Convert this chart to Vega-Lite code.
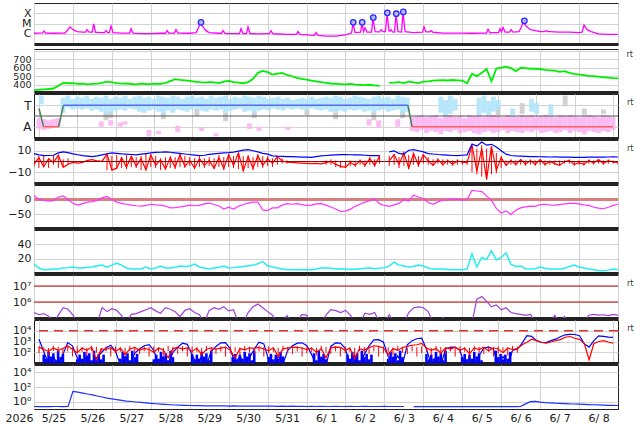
{
"$schema": "https://vega.github.io/schema/vega-lite/v6.json",
"padding": {"left": 4, "top": 2, "right": 5, "bottom": 2},
"background": "white",
"spacing": 0,
"datasets": {
"m": [
{"d":0,"sp":336,"bt":7.4,"bz":-2.7,"ds":13,"n":12.4,"pu":220000,"b8":1600,"r8":300,"p9":0.22},
{"d":0.125,"sp":341,"bt":6.2,"bz":3.6,"ds":0,"n":7,"pu":160000,"b8":110,"r8":180,"p9":0.21},
{"d":0.25,"sp":346,"bt":5.4,"bz":-5,"ds":-3,"n":4.5,"pu":190000,"b8":8,"r8":120,"p9":0.22},
{"d":0.375,"sp":350,"bt":5.6,"bz":2.5,"ds":-6,"n":5,"pu":130000,"b8":40,"r8":250,"p9":0.21},
{"d":0.5,"sp":356,"bt":5.8,"bz":-1,"ds":-4,"n":5.7,"pu":50000,"b8":6,"r8":150,"p9":0.22},
{"d":0.625,"sp":388,"bt":8,"bz":6,"ds":8,"n":5.5,"pu":150000,"b8":60,"r8":220,"p9":0.22},
{"d":0.75,"sp":423,"bt":8.9,"bz":-5.4,"ds":12,"n":7,"pu":440000,"b8":800,"r8":400,"p9":0.21},
{"d":0.875,"sp":418,"bt":8.2,"bz":-2.5,"ds":0,"n":7.5,"pu":350000,"b8":400,"r8":180,"p9":0.23},
{"d":1,"sp":420,"bt":7.1,"bz":-0.9,"ds":-13,"n":8.4,"pu":150000,"b8":30,"r8":90,"p9":25},
{"d":1.125,"sp":410,"bt":6.3,"bz":-1.5,"ds":-19,"n":7,"pu":50000,"b8":6,"r8":250,"p9":20},
{"d":1.25,"sp":413,"bt":5.4,"bz":-0.8,"ds":-14,"n":7,"pu":50000,"b8":50,"r8":150,"p9":15},
{"d":1.375,"sp":405,"bt":5,"bz":1,"ds":-9,"n":8,"pu":50000,"b8":7,"r8":300,"p9":11},
{"d":1.5,"sp":411,"bt":4.5,"bz":1.8,"ds":-7,"n":8.4,"pu":50000,"b8":30,"r8":20,"p9":8.5},
{"d":1.625,"sp":414,"bt":5.2,"bz":0.5,"ds":-3,"n":10,"pu":50000,"b8":90,"r8":200,"p9":6},
{"d":1.75,"sp":422,"bt":6.2,"bz":0.2,"ds":5,"n":11,"pu":450000,"b8":250,"r8":180,"p9":4.3},
{"d":1.875,"sp":436,"bt":7.2,"bz":7.1,"ds":10,"n":8,"pu":250000,"b8":450,"r8":260,"p9":3},
{"d":2,"sp":428,"bt":8,"bz":-8,"ds":0,"n":11,"pu":380000,"b8":120,"r8":120,"p9":2.4},
{"d":2.125,"sp":419,"bt":7.6,"bz":-6.2,"ds":-9,"n":13.7,"pu":300000,"b8":7,"r8":240,"p9":1.9},
{"d":2.25,"sp":413,"bt":7.1,"bz":3.6,"ds":-13,"n":11,"pu":140000,"b8":40,"r8":60,"p9":1.5},
{"d":2.375,"sp":416,"bt":6.8,"bz":-5.4,"ds":-16,"n":7,"pu":50000,"b8":6,"r8":200,"p9":1.2},
{"d":2.5,"sp":409,"bt":6.5,"bz":5,"ds":-19,"n":5.7,"pu":170000,"b8":80,"r8":280,"p9":1.05},
{"d":2.625,"sp":405,"bt":6.2,"bz":-4.5,"ds":-21,"n":5.5,"pu":190000,"b8":200,"r8":150,"p9":0.9},
{"d":2.75,"sp":413,"bt":6.8,"bz":2.7,"ds":-22,"n":5.7,"pu":250000,"b8":400,"r8":230,"p9":0.78},
{"d":2.875,"sp":409,"bt":7.4,"bz":-8,"ds":-20,"n":8.4,"pu":330000,"b8":500,"r8":180,"p9":0.68},
{"d":3,"sp":407,"bt":8,"bz":6.2,"ds":-16,"n":5.7,"pu":440000,"b8":150,"r8":100,"p9":0.6},
{"d":3.125,"sp":414,"bt":8.4,"bz":-3.6,"ds":-18,"n":7,"pu":280000,"b8":8,"r8":250,"p9":0.52},
{"d":3.25,"sp":411,"bt":8.6,"bz":1.8,"ds":-19,"n":9.7,"pu":200000,"b8":35,"r8":160,"p9":0.46},
{"d":3.375,"sp":421,"bt":8.9,"bz":-7.1,"ds":-22,"n":7,"pu":440000,"b8":7,"r8":30,"p9":0.42},
{"d":3.5,"sp":443,"bt":8.6,"bz":3.6,"ds":-28,"n":7,"pu":350000,"b8":100,"r8":220,"p9":0.38},
{"d":3.625,"sp":466,"bt":8,"bz":-5.4,"ds":-27,"n":8,"pu":250000,"b8":300,"r8":280,"p9":0.35},
{"d":3.75,"sp":458,"bt":7.5,"bz":6.2,"ds":-25,"n":9.7,"pu":120000,"b8":700,"r8":200,"p9":0.33},
{"d":3.875,"sp":452,"bt":7,"bz":-4.5,"ds":-22,"n":9,"pu":300000,"b8":550,"r8":250,"p9":0.31},
{"d":4,"sp":446,"bt":6.5,"bz":0.9,"ds":-19,"n":9.7,"pu":380000,"b8":60,"r8":120,"p9":0.3},
{"d":4.125,"sp":438,"bt":6,"bz":-6.2,"ds":-21,"n":12.4,"pu":220000,"b8":7,"r8":230,"p9":0.29},
{"d":4.25,"sp":430,"bt":5.4,"bz":2.7,"ds":-20,"n":8.4,"pu":160000,"b8":40,"r8":60,"p9":0.28},
{"d":4.375,"sp":424,"bt":5.8,"bz":-3.6,"ds":-15,"n":7,"pu":50000,"b8":6,"r8":180,"p9":0.27},
{"d":4.5,"sp":431,"bt":6.6,"bz":0.9,"ds":-12,"n":5.7,"pu":300000,"b8":120,"r8":260,"p9":0.27},
{"d":4.625,"sp":427,"bt":7.1,"bz":-6.2,"ds":-17,"n":7,"pu":440000,"b8":350,"r8":200,"p9":0.26},
{"d":4.75,"sp":420,"bt":7.6,"bz":3.6,"ds":-22,"n":8,"pu":350000,"b8":750,"r8":240,"p9":0.27},
{"d":4.875,"sp":438,"bt":8,"bz":-6.5,"ds":-32,"n":9.7,"pu":500000,"b8":800,"r8":300,"p9":0.26},
{"d":5,"sp":445,"bt":8.3,"bz":6.2,"ds":-26,"n":7,"pu":280000,"b8":200,"r8":150,"p9":0.25},
{"d":5.125,"sp":432,"bt":8.8,"bz":-3.6,"ds":-32,"n":7.5,"pu":330000,"b8":8,"r8":30,"p9":0.26},
{"d":5.25,"sp":425,"bt":9.6,"bz":8,"ds":-23,"n":8.4,"pu":50000,"b8":45,"r8":220,"p9":0.25},
{"d":5.375,"sp":418,"bt":10.5,"bz":-8.5,"ds":-17,"n":9,"pu":50000,"b8":6,"r8":170,"p9":0.25},
{"d":5.5,"sp":430,"bt":11,"bz":4.5,"ds":-12,"n":10,"pu":220000,"b8":30,"r8":260,"p9":0.24},
{"d":5.625,"sp":470,"bt":10,"bz":-6.2,"ds":-9,"n":11,"pu":500000,"b8":200,"r8":230,"p9":0.25},
{"d":5.75,"sp":540,"bt":8.9,"bz":5.4,"ds":-9,"n":13,"pu":760000,"b8":850,"r8":280,"p9":0.24},
{"d":5.875,"sp":562,"bt":7.6,"bz":-3.6,"ds":-35,"n":16,"pu":440000,"b8":600,"r8":200,"p9":0.24},
{"d":6,"sp":548,"bt":6.8,"bz":2.7,"ds":-37,"n":10,"pu":250000,"b8":20,"r8":140,"p9":0.25},
{"d":6.125,"sp":520,"bt":5.3,"bz":-1.8,"ds":-28,"n":8.4,"pu":150000,"b8":7,"r8":260,"p9":0.24},
{"d":6.25,"sp":530,"bt":5,"bz":4.5,"ds":-28,"n":7,"pu":50000,"b8":40,"r8":40,"p9":0.23},
{"d":6.375,"sp":538,"bt":4.8,"bz":0.5,"ds":-19,"n":5.7,"pu":50000,"b8":8,"r8":210,"p9":0.24},
{"d":6.5,"sp":515,"bt":4.6,"bz":-0.5,"ds":-14,"n":5,"pu":140000,"b8":150,"r8":250,"p9":0.23},
{"d":6.625,"sp":500,"bt":4.5,"bz":-0.9,"ds":-16,"n":4.4,"pu":50000,"b8":400,"r8":300,"p9":0.24},
{"d":6.75,"sp":480,"bt":4.3,"bz":-1.2,"ds":-14,"n":4.4,"pu":50000,"b8":700,"r8":280,"p9":0.23},
{"d":6.875,"sp":470,"bt":4.1,"bz":-1.5,"ds":-17,"n":4.5,"pu":160000,"b8":750,"r8":250,"p9":0.23},
{"d":7,"sp":460,"bt":4,"bz":-1.8,"ds":-20,"n":4.4,"pu":150000,"b8":400,"r8":180,"p9":0.22},
{"d":7.125,"sp":448,"bt":3.8,"bz":-2,"ds":-19,"n":4.5,"pu":50000,"b8":60,"r8":240,"p9":0.23},
{"d":7.25,"sp":440,"bt":4.5,"bz":-1.8,"ds":-15,"n":5.5,"pu":50000,"b8":7,"r8":100,"p9":0.22},
{"d":7.375,"sp":430,"bt":5.3,"bz":-2.2,"ds":-14,"n":7,"pu":50000,"b8":35,"r8":220,"p9":0.23},
{"d":7.5,"sp":422,"bt":5.6,"bz":-1,"ds":-19,"n":7,"pu":150000,"b8":6,"r8":30,"p9":0.22},
{"d":7.625,"sp":415,"bt":6,"bz":0,"ds":-25,"n":6.5,"pu":330000,"b8":350,"r8":260,"p9":0.22},
{"d":7.75,"sp":412,"bt":6.2,"bz":-2.7,"ds":-32,"n":5.7,"pu":290000,"b8":750,"r8":300,"p9":0.23},
{"d":7.875,"sp":408,"bt":6.4,"bz":-4.5,"ds":-40,"n":6,"pu":220000,"b8":700,"r8":280,"p9":0.22},
{"d":8,"sp":405,"bt":6.5,"bz":-5.4,"ds":-39,"n":5.5,"pu":300000,"b8":250,"r8":150,"p9":0.22},
{"d":8.125,"sp":410,"bt":6.3,"bz":-1,"ds":-33,"n":4.8,"pu":150000,"b8":8,"r8":230,"p9":0.23},
{"d":8.25,"sp":402,"bt":6.2,"bz":-3.6,"ds":-23,"n":5.7,"pu":50000,"b8":50,"r8":25,"p9":0.22},
{"d":8.375,"sp":398,"bt":6.2,"bz":0.9,"ds":-16,"n":5.7,"pu":50000,"b8":7,"r8":210,"p9":0.22},
{"d":8.5,"sp":395,"bt":5.8,"bz":-3.6,"ds":-9,"n":6.5,"pu":200000,"b8":60,"r8":160,"p9":0.23},
{"d":8.625,"sp":400,"bt":5.5,"bz":2.7,"ds":-4,"n":7,"pu":170000,"b8":400,"r8":270,"p9":0.22},
{"d":8.75,"sp":392,"bt":5.4,"bz":-3.6,"ds":2,"n":6,"pu":220000,"b8":1400,"r8":400,"p9":0.22},
{"d":8.875,"sp":388,"bt":5.4,"bz":5,"ds":-14,"n":6.5,"pu":50000,"b8":1500,"r8":350,"p9":0.22},
{"d":9,"sp":null,"bt":null,"bz":null,"ds":-20,"n":7.5,"pu":50000,"b8":900,"r8":250,"p9":0.23},
{"d":9.125,"sp":422,"bt":8.9,"bz":0.9,"ds":-23,"n":10,"pu":160000,"b8":40,"r8":60,"p9":0.22},
{"d":9.25,"sp":425,"bt":9.8,"bz":6.2,"ds":-18,"n":15,"pu":50000,"b8":7,"r8":220,"p9":0.22},
{"d":9.375,"sp":430,"bt":7.5,"bz":-2.7,"ds":-13,"n":11,"pu":50000,"b8":45,"r8":150,"p9":0.22},
{"d":9.5,"sp":420,"bt":6.8,"bz":8,"ds":0,"n":9.7,"pu":50000,"b8":8,"r8":280,"p9":0.22},
{"d":9.625,"sp":436,"bt":10.5,"bz":-6.2,"ds":-5,"n":8.4,"pu":220000,"b8":500,"r8":350,"p9":null},
{"d":9.75,"sp":428,"bt":11,"bz":7.5,"ds":14,"n":9,"pu":440000,"b8":1200,"r8":450,"p9":0.21},
{"d":9.875,"sp":420,"bt":10,"bz":-3.6,"ds":8,"n":11,"pu":500000,"b8":1800,"r8":500,"p9":0.22},
{"d":10,"sp":436,"bt":8.9,"bz":6.2,"ds":3,"n":9.7,"pu":440000,"b8":2000,"r8":650,"p9":0.21},
{"d":10.125,"sp":440,"bt":7.4,"bz":0.9,"ds":-10,"n":7,"pu":250000,"b8":200,"r8":250,"p9":0.22},
{"d":10.25,"sp":448,"bt":7,"bz":-3.6,"ds":-16,"n":5.7,"pu":50000,"b8":7,"r8":150,"p9":0.21},
{"d":10.375,"sp":452,"bt":6.5,"bz":1.8,"ds":-8,"n":5.7,"pu":50000,"b8":40,"r8":220,"p9":0.22},
{"d":10.5,"sp":455,"bt":6.2,"bz":-2.7,"ds":-2,"n":5.7,"pu":110000,"b8":6,"r8":80,"p9":0.21},
{"d":10.625,"sp":450,"bt":5.9,"bz":0.9,"ds":-2,"n":5,"pu":50000,"b8":200,"r8":260,"p9":0.22},
{"d":10.75,"sp":456,"bt":5.6,"bz":-2.5,"ds":2,"n":4.4,"pu":50000,"b8":280,"r8":200,"p9":0.21},
{"d":10.875,"sp":452,"bt":5.4,"bz":0.5,"ds":0,"n":4.4,"pu":50000,"b8":300,"r8":300,"p9":0.21},
{"d":11,"sp":448,"bt":5.8,"bz":-0.5,"ds":-2,"n":4.5,"pu":50000,"b8":150,"r8":150,"p9":0.22},
{"d":11.125,"sp":418,"bt":6.2,"bz":-1,"ds":-1,"n":5.7,"pu":50000,"b8":7,"r8":240,"p9":0.21},
{"d":11.25,"sp":530,"bt":16.3,"bz":15,"ds":30,"n":26.7,"pu":50000,"b8":30,"r8":70,"p9":0.21},
{"d":11.375,"sp":500,"bt":14.3,"bz":-9,"ds":28,"n":8.4,"pu":1500000,"b8":6,"r8":250,"p9":0.22},
{"d":11.5,"sp":540,"bt":18.1,"bz":12,"ds":26,"n":21.7,"pu":2200000,"b8":50,"r8":180,"p9":0.21},
{"d":11.625,"sp":585,"bt":15.2,"bz":-16.5,"ds":12,"n":19,"pu":1100000,"b8":250,"r8":300,"p9":0.21},
{"d":11.75,"sp":440,"bt":16,"bz":14,"ds":-3,"n":31,"pu":500000,"b8":300,"r8":130,"p9":0.22},
{"d":11.875,"sp":590,"bt":13.4,"bz":-8,"ds":-30,"n":18,"pu":660000,"b8":200,"r8":260,"p9":0.21},
{"d":12,"sp":600,"bt":10,"bz":3.6,"ds":-45,"n":21.7,"pu":330000,"b8":7,"r8":200,"p9":0.21},
{"d":12.125,"sp":612,"bt":6.8,"bz":-3.6,"ds":-38,"n":28,"pu":440000,"b8":40,"r8":90,"p9":0.22},
{"d":12.25,"sp":595,"bt":5.6,"bz":0.9,"ds":-50,"n":12,"pu":220000,"b8":6,"r8":250,"p9":0.21},
{"d":12.375,"sp":560,"bt":5.2,"bz":-2.7,"ds":-36,"n":9,"pu":190000,"b8":150,"r8":180,"p9":0.21},
{"d":12.5,"sp":600,"bt":5,"bz":1.8,"ds":-28,"n":9.7,"pu":170000,"b8":200,"r8":215,"p9":0.22},
{"d":12.625,"sp":595,"bt":4.8,"bz":-2.5,"ds":-25,"n":6,"pu":145000,"b8":700,"r8":500,"p9":0.5},
{"d":12.75,"sp":588,"bt":4.5,"bz":0.9,"ds":-22,"n":5.7,"pu":170000,"b8":3500,"r8":850,"p9":1},
{"d":12.875,"sp":590,"bt":4.6,"bz":-2.7,"ds":-23,"n":6,"pu":50000,"b8":3000,"r8":1650,"p9":1.1},
{"d":13,"sp":585,"bt":4.4,"bz":1.8,"ds":-17,"n":8.4,"pu":50000,"b8":1200,"r8":1200,"p9":0.85},
{"d":13.125,"sp":575,"bt":4.3,"bz":-2.7,"ds":-16,"n":6.5,"pu":50000,"b8":850,"r8":850,"p9":0.75},
{"d":13.25,"sp":570,"bt":4.2,"bz":0,"ds":-18,"n":5.7,"pu":50000,"b8":800,"r8":700,"p9":0.7},
{"d":13.375,"sp":565,"bt":4.4,"bz":-2,"ds":-19,"n":5.7,"pu":145000,"b8":1200,"r8":900,"p9":0.62},
{"d":13.5,"sp":552,"bt":4.1,"bz":-3.6,"ds":-17,"n":5.7,"pu":50000,"b8":1650,"r8":1200,"p9":0.6},
{"d":13.625,"sp":560,"bt":4,"bz":0,"ds":-15,"n":6.5,"pu":126000,"b8":2800,"r8":1500,"p9":0.55},
{"d":13.75,"sp":540,"bt":4.1,"bz":0.9,"ds":-13,"n":9,"pu":50000,"b8":4200,"r8":2500,"p9":0.5},
{"d":13.875,"sp":528,"bt":3.9,"bz":-2.7,"ds":-13,"n":11,"pu":50000,"b8":4600,"r8":2900,"p9":0.48},
{"d":14,"sp":520,"bt":3.8,"bz":-1,"ds":-15,"n":8.4,"pu":50000,"b8":4500,"r8":2000,"p9":0.45},
{"d":14.125,"sp":512,"bt":3.9,"bz":-2.7,"ds":-18,"n":7,"pu":50000,"b8":3500,"r8":1600,"p9":0.42},
{"d":14.25,"sp":505,"bt":4,"bz":0.9,"ds":-20,"n":5.7,"pu":150000,"b8":600,"r8":650,"p9":0.4},
{"d":14.375,"sp":500,"bt":4.1,"bz":-1.5,"ds":-26,"n":4.4,"pu":170000,"b8":300,"r8":20,"p9":0.38},
{"d":14.5,"sp":495,"bt":4.2,"bz":1.8,"ds":-29,"n":3.5,"pu":150000,"b8":1200,"r8":650,"p9":0.36},
{"d":14.625,"sp":488,"bt":4.1,"bz":-1.8,"ds":-31,"n":3.1,"pu":160000,"b8":3300,"r8":1000,"p9":0.34},
{"d":14.75,"sp":485,"bt":4.2,"bz":0.9,"ds":-26,"n":4,"pu":140000,"b8":3000,"r8":1200,"p9":0.32},
{"d":14.875,"sp":478,"bt":4.3,"bz":-0.5,"ds":-20,"n":5.7,"pu":170000,"b8":2600,"r8":900,"p9":0.31},
{"d":15,"sp":475,"bt":4.2,"bz":-0.9,"ds":-16,"n":4.4,"pu":150000,"b8":2400,"r8":700,"p9":0.3}
],
"xr": [
{"d":0,"v":1.12e-6},{"d":0.218,"v":1.2e-6},{"d":0.257,"v":1.8e-6},{"d":0.295,"v":1.15e-6},
{"d":0.5,"v":1.12e-6},{"d":0.75,"v":1.17e-6},
{"d":0.796,"v":1.17e-6},{"d":0.873,"v":2.5e-6},{"d":0.925,"v":4.7e-6},{"d":1.002,"v":2.5e-6},{"d":1.105,"v":1.62e-6},
{"d":1.25,"v":1.46e-6},
{"d":1.323,"v":1.46e-6},{"d":1.361,"v":2.5e-6},{"d":1.413,"v":1.46e-6},
{"d":1.495,"v":1.46e-6},{"d":1.534,"v":9e-6},{"d":1.58,"v":1.4e-6},
{"d":1.75,"v":1.31e-6},
{"d":1.811,"v":1.31e-6},{"d":1.85,"v":2e-6},{"d":1.888,"v":1.31e-6},
{"d":1.939,"v":1.31e-6},{"d":1.978,"v":5.8e-6},{"d":2.029,"v":1.3e-6},
{"d":2.25,"v":1.17e-6},
{"d":2.453,"v":1.17e-6},{"d":2.492,"v":3.1e-6},{"d":2.543,"v":1.17e-6},
{"d":2.75,"v":1.05e-6},{"d":3,"v":1.05e-6},{"d":3.25,"v":1.12e-6},
{"d":3.378,"v":1.12e-6},{"d":3.416,"v":2e-6},{"d":3.468,"v":1.12e-6},
{"d":3.5,"v":1.17e-6},
{"d":3.607,"v":1.17e-6},{"d":3.648,"v":2.5e-6},{"d":3.699,"v":1.17e-6},
{"d":3.75,"v":1.17e-6},{"d":4,"v":1.12e-6},
{"d":4.161,"v":1.31e-6},{"d":4.213,"v":3.1e-6},{"d":4.264,"v":1e-5},{"d":4.341,"v":4.7e-6},{"d":4.418,"v":2e-6},{"d":4.495,"v":1.31e-6},
{"d":4.75,"v":1.12e-6},
{"d":4.816,"v":1.12e-6},{"d":4.855,"v":2e-6},{"d":4.906,"v":1.1e-6},
{"d":5,"v":1.05e-6},{"d":5.25,"v":1.05e-6},
{"d":5.279,"v":1.05e-6},{"d":5.317,"v":3.1e-6},{"d":5.369,"v":1.05e-6},
{"d":5.459,"v":1.05e-6},{"d":5.497,"v":4.7e-6},{"d":5.548,"v":1.05e-6},
{"d":5.75,"v":9.9e-7},{"d":6,"v":1.05e-6},
{"d":6.049,"v":1.05e-6},{"d":6.088,"v":2e-6},{"d":6.139,"v":1e-6},
{"d":6.25,"v":9.5e-7},{"d":6.5,"v":8.5e-7},
{"d":6.743,"v":8.5e-7},{"d":6.781,"v":1.62e-6},{"d":6.833,"v":8.5e-7},
{"d":7,"v":7.7e-7},
{"d":7.205,"v":7e-7},{"d":7.244,"v":1.31e-6},{"d":7.295,"v":6.8e-7},
{"d":7.5,"v":5.9e-7},{"d":7.75,"v":5.9e-7},{"d":8,"v":7.7e-7},
{"d":8.156,"v":1.17e-6},{"d":8.194,"v":1e-5},{"d":8.246,"v":1.3e-6},
{"d":8.387,"v":1.4e-6},{"d":8.425,"v":1e-5},{"d":8.464,"v":1.6e-6},
{"d":8.503,"v":3.8e-6},{"d":8.554,"v":1.46e-6},
{"d":8.669,"v":1.46e-6},{"d":8.708,"v":3.25e-5},{"d":8.759,"v":1.6e-6},
{"d":8.875,"v":1.5e-6},{"d":8.913,"v":2.5e-6},{"d":8.965,"v":1.6e-6},
{"d":9,"v":1.62e-6},
{"d":9.029,"v":1.6e-6},{"d":9.068,"v":9.5e-5},{"d":9.119,"v":1.8e-6},
{"d":9.145,"v":1.8e-6},{"d":9.17,"v":2.5e-6},{"d":9.209,"v":1.5e-6},
{"d":9.25,"v":1.46e-6},
{"d":9.26,"v":1.46e-6},{"d":9.299,"v":7.7e-5},{"d":9.35,"v":1.6e-6},
{"d":9.44,"v":1.46e-6},{"d":9.479,"v":1.17e-4},{"d":9.53,"v":1.6e-6},
{"d":9.75,"v":1.31e-6},
{"d":9.98,"v":1.46e-6},{"d":10.018,"v":4.7e-6},{"d":10.069,"v":1.5e-6},
{"d":10.159,"v":1.52e-6},{"d":10.198,"v":2e-6},{"d":10.249,"v":1.4e-6},
{"d":10.5,"v":1.17e-6},{"d":10.75,"v":1.17e-6},{"d":11,"v":1.17e-6},{"d":11.25,"v":1.12e-6},{"d":11.5,"v":1.17e-6},
{"d":11.624,"v":1.17e-6},{"d":11.662,"v":2.75e-6},{"d":11.714,"v":1.2e-6},
{"d":11.75,"v":1.31e-6},
{"d":11.932,"v":1.31e-6},{"d":11.97,"v":3.1e-6},{"d":12.009,"v":1.5e-6},
{"d":12.047,"v":4.25e-6},{"d":12.099,"v":1.46e-6},
{"d":12.214,"v":1.46e-6},{"d":12.253,"v":2.5e-6},{"d":12.304,"v":1.46e-6},
{"d":12.458,"v":1.62e-6},{"d":12.51,"v":3.8e-6},{"d":12.561,"v":1.38e-5},{"d":12.638,"v":5.8e-6},
{"d":12.75,"v":2.5e-6},{"d":13,"v":1.62e-6},
{"d":13.113,"v":1.62e-6},{"d":13.152,"v":2e-6},{"d":13.203,"v":1.6e-6},
{"d":13.25,"v":1.62e-6},{"d":13.5,"v":1.46e-6},{"d":13.75,"v":1.46e-6},{"d":14,"v":1.31e-6},
{"d":14.077,"v":1.46e-6},{"d":14.128,"v":7.2e-6},{"d":14.205,"v":2.5e-6},{"d":14.308,"v":1.62e-6},
{"d":14.5,"v":9.5e-7},{"d":14.75,"v":8.5e-7},{"d":15,"v":8.5e-7}
],
"fl": [
{"d":4.29,"v":1.3e-5},{"d":8.2,"v":1.3e-5},{"d":8.43,"v":1.3e-5},{"d":8.715,"v":3.8e-5},
{"d":9.075,"v":1.1e-4},{"d":9.306,"v":9e-5},{"d":9.486,"v":1.36e-4},{"d":12.595,"v":1.82e-5}
],
"sec": [
{"d":0,"v":0.7,"k":"g1"},{"d":0.12,"v":-1,"k":"g1"},
{"d":0.12,"v":-1,"k":"A1"},{"d":0.51,"v":-1,"k":"A1"},
{"d":0.51,"v":-1,"k":"g2"},{"d":0.64,"v":1,"k":"g2"},
{"d":0.64,"v":1,"k":"T"},{"d":9.64,"v":1,"k":"T"},
{"d":9.64,"v":1,"k":"g3"},{"d":9.75,"v":-1,"k":"g3"},
{"d":9.75,"v":-1,"k":"A2"},{"d":15,"v":-1,"k":"A2"}
],
"bze": [
{"d":0,"l":-5,"h":4},{"d":0.125,"l":-6,"h":5},{"d":0.25,"l":-4,"h":6},{"d":0.375,"l":-6,"h":3},{"d":0.5,"l":-3,"h":6},{"d":0.625,"l":-6,"h":4},{"d":0.75,"l":-5,"h":2},{"d":0.875,"l":-3,"h":3},
{"d":1.875,"l":-8,"h":7},{"d":2,"l":-8,"h":5},{"d":2.125,"l":-7,"h":6},{"d":2.25,"l":-6,"h":4},{"d":2.375,"l":-7,"h":6},{"d":2.5,"l":-5,"h":5},{"d":2.625,"l":-6,"h":4},{"d":2.75,"l":-8,"h":5},{"d":2.875,"l":-6,"h":7},{"d":3,"l":-5,"h":4},{"d":3.125,"l":-6,"h":5},{"d":3.25,"l":-8,"h":3},{"d":3.375,"l":-7,"h":4},
{"d":3.5,"l":-6,"h":5},{"d":3.625,"l":-7,"h":4},{"d":3.75,"l":-5,"h":7},{"d":3.875,"l":-6,"h":5},{"d":4,"l":-4,"h":4},{"d":4.125,"l":-7,"h":3},{"d":4.25,"l":-5,"h":5},{"d":4.375,"l":-6,"h":3},{"d":4.5,"l":-4,"h":4},{"d":4.625,"l":-7,"h":3},{"d":4.75,"l":-5,"h":6},{"d":4.875,"l":-8,"h":4},
{"d":5,"l":-5,"h":7},{"d":5.125,"l":-6,"h":5},{"d":5.25,"l":-7,"h":8},{"d":5.375,"l":-9,"h":5},{"d":5.5,"l":-6,"h":6},{"d":5.625,"l":-8,"h":4},{"d":5.75,"l":-5,"h":7},{"d":5.875,"l":-6,"h":5},{"d":6,"l":-4,"h":5},{"d":6.125,"l":-5,"h":3},{"d":6.25,"l":-3,"h":5},{"d":6.375,"l":-2,"h":3},{"d":6.5,"l":-2,"h":1},
{"d":7.5,"l":-3,"h":1},{"d":7.625,"l":-3,"h":2},{"d":7.75,"l":-5,"h":1},{"d":7.875,"l":-6,"h":0},{"d":8,"l":-6,"h":0},{"d":8.125,"l":-4,"h":1},{"d":8.25,"l":-5,"h":0},{"d":8.375,"l":-3,"h":2},{"d":8.5,"l":-5,"h":1},{"d":8.625,"l":-3,"h":4},{"d":8.75,"l":-5,"h":2},{"d":8.875,"l":-2,"h":6},
{"d":9.125,"l":-4,"h":5},{"d":9.25,"l":-3,"h":7},{"d":9.375,"l":-6,"h":4},{"d":9.5,"l":-4,"h":9},{"d":9.625,"l":-7,"h":6},{"d":9.75,"l":-3,"h":8},{"d":9.875,"l":-5,"h":5},{"d":10,"l":-2,"h":7},{"d":10.125,"l":-3,"h":4},
{"d":10.25,"l":-4,"h":2},{"d":10.375,"l":-2,"h":3},{"d":10.5,"l":-4,"h":2},{"d":10.625,"l":-3,"h":2},{"d":10.75,"l":-4,"h":1},{"d":10.875,"l":-3,"h":2},{"d":11,"l":-3,"h":1},{"d":11.125,"l":-3,"h":1},
{"d":11.25,"l":-10,"h":16},{"d":11.375,"l":-12,"h":12},{"d":11.5,"l":-14,"h":15},{"d":11.625,"l":-17,"h":12},{"d":11.75,"l":-12,"h":14},{"d":11.875,"l":-11,"h":8},{"d":12,"l":-6,"h":5},
{"d":12.125,"l":-4,"h":1},{"d":12.25,"l":-3,"h":2},{"d":12.375,"l":-4,"h":1},{"d":12.5,"l":-3,"h":2},{"d":12.625,"l":-4,"h":1},{"d":12.75,"l":-3,"h":2},{"d":12.875,"l":-4,"h":1},{"d":13,"l":-3,"h":2},{"d":13.125,"l":-4,"h":1},{"d":13.25,"l":-3,"h":1},{"d":13.375,"l":-3,"h":1},{"d":13.5,"l":-4,"h":1},{"d":13.625,"l":-2,"h":1},{"d":13.75,"l":-2,"h":2},{"d":13.875,"l":-4,"h":0},{"d":14,"l":-3,"h":1},{"d":14.125,"l":-4,"h":0},{"d":14.25,"l":-2,"h":2},{"d":14.375,"l":-3,"h":1},{"d":14.5,"l":-2,"h":2},{"d":14.625,"l":-3,"h":1},{"d":14.75,"l":-2,"h":2},{"d":14.875,"l":-2,"h":1},{"d":15,"l":-3,"h":0}
],
"r8e": [
{"d":0,"l":80,"h":350},{"d":0.125,"l":110,"h":290},{"d":0.25,"l":50,"h":260},{"d":0.375,"l":130,"h":400},{"d":0.5,"l":90,"h":320},{"d":0.625,"l":70,"h":240},{"d":0.75,"l":120,"h":360},{"d":0.875,"l":40,"h":300},
{"d":1,"l":80,"h":350},{"d":1.125,"l":110,"h":290},{"d":1.25,"l":50,"h":260},{"d":1.375,"l":130,"h":400},{"d":1.5,"l":90,"h":320},{"d":1.625,"l":70,"h":240},{"d":1.75,"l":120,"h":360},{"d":1.875,"l":40,"h":300},
{"d":2,"l":80,"h":350},{"d":2.125,"l":110,"h":290},{"d":2.25,"l":50,"h":260},{"d":2.375,"l":130,"h":400},{"d":2.5,"l":90,"h":320},{"d":2.625,"l":70,"h":240},{"d":2.75,"l":120,"h":360},{"d":2.875,"l":40,"h":300},
{"d":3,"l":80,"h":350},{"d":3.125,"l":110,"h":290},{"d":3.25,"l":50,"h":260},{"d":3.375,"l":130,"h":400},{"d":3.5,"l":90,"h":320},{"d":3.625,"l":70,"h":240},{"d":3.75,"l":120,"h":360},{"d":3.875,"l":40,"h":300},
{"d":4,"l":80,"h":350},{"d":4.125,"l":110,"h":290},{"d":4.25,"l":50,"h":260},{"d":4.375,"l":130,"h":400},{"d":4.5,"l":90,"h":320},{"d":4.625,"l":70,"h":240},{"d":4.75,"l":120,"h":360},{"d":4.875,"l":40,"h":300},
{"d":5,"l":80,"h":350},{"d":5.125,"l":110,"h":290},{"d":5.25,"l":50,"h":260},{"d":5.375,"l":130,"h":400},{"d":5.5,"l":90,"h":320},{"d":5.625,"l":70,"h":240},{"d":5.75,"l":120,"h":360},{"d":5.875,"l":40,"h":300},
{"d":6,"l":80,"h":350},{"d":6.125,"l":110,"h":290},{"d":6.25,"l":50,"h":260},{"d":6.375,"l":130,"h":400},{"d":6.5,"l":90,"h":320},{"d":6.625,"l":70,"h":240},{"d":6.75,"l":120,"h":360},{"d":6.875,"l":40,"h":300},
{"d":7,"l":80,"h":350},{"d":7.125,"l":110,"h":290},{"d":7.25,"l":50,"h":260},{"d":7.375,"l":130,"h":400},{"d":7.5,"l":90,"h":320},{"d":7.625,"l":70,"h":240},{"d":7.75,"l":120,"h":360},{"d":7.875,"l":40,"h":300},
{"d":8,"l":80,"h":350},{"d":8.125,"l":110,"h":290},{"d":8.25,"l":50,"h":260},{"d":8.375,"l":130,"h":400},{"d":8.5,"l":90,"h":320},{"d":8.625,"l":70,"h":240},{"d":8.75,"l":120,"h":360},{"d":8.875,"l":40,"h":300},
{"d":9,"l":80,"h":350},{"d":9.125,"l":110,"h":290},{"d":9.25,"l":50,"h":260},{"d":9.375,"l":130,"h":400},{"d":9.5,"l":90,"h":320},{"d":9.625,"l":70,"h":240},{"d":9.75,"l":120,"h":360},{"d":9.875,"l":40,"h":300},
{"d":10,"l":80,"h":350},{"d":10.125,"l":110,"h":290},{"d":10.25,"l":50,"h":260},{"d":10.375,"l":130,"h":400},{"d":10.5,"l":90,"h":320},{"d":10.625,"l":70,"h":240},{"d":10.75,"l":120,"h":360},{"d":10.875,"l":40,"h":300},
{"d":11,"l":80,"h":350},{"d":11.125,"l":110,"h":290},{"d":11.25,"l":50,"h":260},{"d":11.375,"l":130,"h":400},{"d":11.5,"l":90,"h":320},{"d":11.625,"l":70,"h":240},{"d":11.75,"l":120,"h":360},{"d":11.875,"l":40,"h":300},
{"d":12,"l":80,"h":350},{"d":12.125,"l":110,"h":290},{"d":12.25,"l":50,"h":260},{"d":12.375,"l":130,"h":400},{"d":12.5,"l":90,"h":320}
],
"bn": [
{"d":0.125,"h":60},{"d":0.1875,"h":25},{"d":0.25,"h":110},{"d":0.3125,"h":40},{"d":0.375,"h":80},{"d":0.4375,"h":18},{"d":0.5,"h":140},{"d":0.5625,"h":35},{"d":0.625,"h":70},
{"d":1,"h":22},{"d":1.0625,"h":60},{"d":1.125,"h":25},{"d":1.1875,"h":110},{"d":1.25,"h":40},{"d":1.3125,"h":80},{"d":1.375,"h":18},{"d":1.4375,"h":140},{"d":1.5,"h":35},{"d":1.5625,"h":70},{"d":1.625,"h":22},{"d":1.6875,"h":60},
{"d":2.125,"h":25},{"d":2.1875,"h":110},{"d":2.25,"h":40},{"d":2.3125,"h":80},{"d":2.375,"h":18},{"d":2.4375,"h":140},{"d":2.5,"h":35},{"d":2.5625,"h":70},
{"d":3,"h":22},{"d":3.0625,"h":60},{"d":3.125,"h":25},{"d":3.1875,"h":110},{"d":3.25,"h":40},{"d":3.3125,"h":80},{"d":3.375,"h":18},{"d":3.4375,"h":140},{"d":3.5,"h":35},
{"d":4,"h":70},{"d":4.0625,"h":22},{"d":4.125,"h":60},{"d":4.1875,"h":25},{"d":4.25,"h":110},{"d":4.3125,"h":40},{"d":4.375,"h":80},{"d":4.4375,"h":18},{"d":4.5,"h":140},
{"d":5.0625,"h":35},{"d":5.125,"h":70},{"d":5.1875,"h":22},{"d":5.25,"h":60},{"d":5.3125,"h":25},{"d":5.375,"h":110},{"d":5.4375,"h":40},{"d":5.5,"h":80},{"d":5.5625,"h":18},{"d":5.625,"h":140},
{"d":6,"h":35},{"d":6.0625,"h":70},{"d":6.125,"h":22},{"d":6.1875,"h":60},{"d":6.25,"h":25},{"d":6.3125,"h":110},{"d":6.375,"h":40},
{"d":7.1875,"h":80},{"d":7.25,"h":18},{"d":7.3125,"h":140},{"d":7.375,"h":35},{"d":7.4375,"h":70},{"d":7.5,"h":22},
{"d":8.0625,"h":60},{"d":8.125,"h":25},{"d":8.1875,"h":110},{"d":8.25,"h":40},{"d":8.3125,"h":80},{"d":8.375,"h":18},{"d":8.4375,"h":140},{"d":8.5,"h":35},{"d":8.5625,"h":70},{"d":8.625,"h":22},{"d":8.6875,"h":60},
{"d":9.125,"h":25},{"d":9.1875,"h":110},{"d":9.25,"h":40},{"d":9.3125,"h":80},{"d":9.375,"h":18},{"d":9.4375,"h":140},{"d":9.5,"h":35},
{"d":10.125,"h":70},{"d":10.1875,"h":22},{"d":10.25,"h":60},{"d":10.3125,"h":25},{"d":10.375,"h":110},{"d":10.4375,"h":40},{"d":10.5,"h":80},{"d":10.5625,"h":18},{"d":10.625,"h":140},
{"d":11.0625,"h":35},{"d":11.125,"h":70},{"d":11.1875,"h":22},{"d":11.25,"h":60},{"d":11.3125,"h":25},{"d":11.375,"h":110},{"d":11.4375,"h":40},{"d":11.5,"h":80},{"d":11.5625,"h":18},
{"d":11.9375,"h":140},{"d":12,"h":35},{"d":12.0625,"h":70},{"d":12.125,"h":22},{"d":12.1875,"h":60},{"d":12.25,"h":25},{"d":12.3125,"h":110}
],
"cl": [
{"d":1.75,"lo":-0.4,"hi":0.3,"c":"g"},{"d":1.875,"lo":-0.2,"hi":0.4,"c":"g"},{"d":3.25,"lo":-0.3,"hi":0.3,"c":"g"},{"d":4.125,"lo":0,"hi":0.7,"c":"g"},{"d":4.875,"lo":-0.5,"hi":0.3,"c":"g"},{"d":5.625,"lo":-0.2,"hi":0.4,"c":"g"},{"d":7,"lo":0.1,"hi":0.6,"c":"g"},{"d":7.75,"lo":-0.3,"hi":0.3,"c":"g"},{"d":8.75,"lo":-0.4,"hi":0.4,"c":"g"},{"d":9.5,"lo":-0.2,"hi":0.4,"c":"g"},{"d":12,"lo":0.1,"hi":1,"c":"g"},{"d":12.625,"lo":0.2,"hi":1.2,"c":"g"},{"d":13.75,"lo":0.9,"hi":1.9,"c":"g"},{"d":14.25,"lo":0.1,"hi":0.7,"c":"g"},{"d":14.75,"lo":0.2,"hi":0.6,"c":"g"},
{"d":0.0625,"lo":1.1,"hi":1.9,"c":"b"},
{"d":0.625,"lo":0.3,"hi":1.7,"c":"b"},{"d":0.75,"lo":0.8,"hi":1.9,"c":"b"},{"d":0.875,"lo":0.6,"hi":1.6,"c":"b"},{"d":1,"lo":0.7,"hi":1.8,"c":"b"},{"d":1.125,"lo":0.6,"hi":1.7,"c":"b"},{"d":1.25,"lo":0.7,"hi":1.9,"c":"b"},{"d":1.375,"lo":0.5,"hi":1.6,"c":"b"},{"d":1.5,"lo":0.6,"hi":1.8,"c":"b"},{"d":1.625,"lo":0.4,"hi":1.7,"c":"b"},{"d":1.75,"lo":0.2,"hi":1.9,"c":"b"},{"d":1.875,"lo":0.3,"hi":1.6,"c":"b"},{"d":2,"lo":0.5,"hi":1.8,"c":"b"},{"d":2.125,"lo":0.6,"hi":1.7,"c":"b"},{"d":2.25,"lo":0.5,"hi":1.9,"c":"b"},{"d":2.375,"lo":0.7,"hi":1.6,"c":"b"},{"d":2.5,"lo":0.6,"hi":1.8,"c":"b"},{"d":2.625,"lo":0.4,"hi":1.9,"c":"b"},{"d":2.75,"lo":0.3,"hi":1.7,"c":"b"},{"d":2.875,"lo":0.5,"hi":1.8,"c":"b"},{"d":3,"lo":0.6,"hi":1.6,"c":"b"},{"d":3.125,"lo":0.4,"hi":1.9,"c":"b"},{"d":3.25,"lo":0.2,"hi":1.8,"c":"b"},{"d":3.375,"lo":0.5,"hi":1.7,"c":"b"},{"d":3.5,"lo":0.3,"hi":1.9,"c":"b"},{"d":3.625,"lo":0.6,"hi":1.8,"c":"b"},{"d":3.75,"lo":0.5,"hi":1.6,"c":"b"},{"d":3.875,"lo":0.4,"hi":1.8,"c":"b"},{"d":4,"lo":0.6,"hi":1.9,"c":"b"},{"d":4.125,"lo":0.7,"hi":1.7,"c":"b"},{"d":4.25,"lo":0.5,"hi":1.8,"c":"b"},{"d":4.375,"lo":0.4,"hi":1.6,"c":"b"},{"d":4.5,"lo":0.6,"hi":1.9,"c":"b"},{"d":4.625,"lo":0.5,"hi":1.7,"c":"b"},{"d":4.75,"lo":0.6,"hi":1.8,"c":"b"},{"d":4.875,"lo":0.3,"hi":1.9,"c":"b"},{"d":5,"lo":0.5,"hi":1.6,"c":"b"},{"d":5.125,"lo":0.6,"hi":1.8,"c":"b"},{"d":5.25,"lo":0.7,"hi":1.7,"c":"b"},{"d":5.375,"lo":0.4,"hi":1.9,"c":"b"},{"d":5.5,"lo":0.5,"hi":1.8,"c":"b"},{"d":5.625,"lo":0.3,"hi":1.7,"c":"b"},{"d":5.75,"lo":0.5,"hi":1.9,"c":"b"},{"d":5.875,"lo":0.6,"hi":1.8,"c":"b"},{"d":6,"lo":0.5,"hi":1.6,"c":"b"},{"d":6.125,"lo":0.7,"hi":1.7,"c":"b"},{"d":6.25,"lo":0.6,"hi":1.8,"c":"b"},{"d":6.375,"lo":0.5,"hi":1.6,"c":"b"},{"d":6.5,"lo":0.7,"hi":1.7,"c":"b"},{"d":6.625,"lo":0.6,"hi":1.5,"c":"b"},{"d":6.75,"lo":0.7,"hi":1.6,"c":"b"},{"d":6.875,"lo":0.6,"hi":1.7,"c":"b"},{"d":7,"lo":0.5,"hi":1.6,"c":"b"},{"d":7.125,"lo":0.7,"hi":1.8,"c":"b"},{"d":7.25,"lo":0.6,"hi":1.6,"c":"b"},{"d":7.375,"lo":0.5,"hi":1.7,"c":"b"},{"d":7.5,"lo":0.6,"hi":1.8,"c":"b"},{"d":7.625,"lo":0.4,"hi":1.7,"c":"b"},{"d":7.75,"lo":0.3,"hi":1.9,"c":"b"},{"d":7.875,"lo":0.5,"hi":1.8,"c":"b"},{"d":8,"lo":0.4,"hi":1.6,"c":"b"},{"d":8.125,"lo":0.6,"hi":1.7,"c":"b"},{"d":8.25,"lo":0.5,"hi":1.9,"c":"b"},{"d":8.375,"lo":0.6,"hi":1.8,"c":"b"},{"d":8.5,"lo":0.4,"hi":1.7,"c":"b"},{"d":8.625,"lo":0.5,"hi":1.6,"c":"b"},{"d":8.75,"lo":0.3,"hi":1.8,"c":"b"},{"d":8.875,"lo":0.5,"hi":1.9,"c":"b"},{"d":9,"lo":0.6,"hi":1.7,"c":"b"},{"d":9.125,"lo":0.4,"hi":1.8,"c":"b"},{"d":9.25,"lo":0.5,"hi":1.6,"c":"b"},{"d":9.375,"lo":0.6,"hi":1.9,"c":"b"},{"d":9.5,"lo":0.3,"hi":1.8,"c":"b"},{"d":9.625,"lo":0.4,"hi":1.7,"c":"b"},
{"d":10.5,"lo":0.3,"hi":1.8,"c":"b"},{"d":10.625,"lo":0,"hi":1.5,"c":"b"},{"d":10.75,"lo":0.2,"hi":1.9,"c":"b"},{"d":10.875,"lo":0.5,"hi":1.6,"c":"b"},{"d":11.5,"lo":0.1,"hi":1.7,"c":"b"},{"d":11.625,"lo":0.3,"hi":1.9,"c":"b"},{"d":11.75,"lo":0,"hi":1.4,"c":"b"},{"d":11.875,"lo":0.4,"hi":1.8,"c":"b"},{"d":12,"lo":0.6,"hi":1.5,"c":"b"},{"d":12.375,"lo":0.1,"hi":0.7,"c":"b"},{"d":12.875,"lo":0.4,"hi":1.6,"c":"b"},{"d":13,"lo":0.2,"hi":1.2,"c":"b"},{"d":13.375,"lo":0.1,"hi":1.1,"c":"b"},
{"d":0,"lo":-1.2,"hi":-0.2,"c":"p"},{"d":0.125,"lo":-1.3,"hi":-0.3,"c":"p"},{"d":0.25,"lo":-1.2,"hi":-0.4,"c":"p"},{"d":0.375,"lo":-1.1,"hi":-0.3,"c":"p"},{"d":0.5,"lo":-1,"hi":-0.2,"c":"p"},
{"d":1.625,"lo":-1,"hi":-0.5,"c":"p"},{"d":1.875,"lo":-0.9,"hi":-0.4,"c":"p"},{"d":2.125,"lo":-1,"hi":-0.6,"c":"p"},{"d":2.25,"lo":-0.8,"hi":-0.5,"c":"p"},{"d":2.875,"lo":-1.9,"hi":-1.3,"c":"p"},{"d":3.125,"lo":-1.7,"hi":-1.4,"c":"p"},{"d":3.625,"lo":-1.5,"hi":-0.9,"c":"p"},{"d":4.25,"lo":-1.4,"hi":-1.1,"c":"p"},{"d":4.625,"lo":-1.9,"hi":-1.6,"c":"p"},{"d":5.5,"lo":-1.2,"hi":-0.7,"c":"p"},{"d":5.75,"lo":-1.4,"hi":-1,"c":"p"},{"d":6.5,"lo":-1.3,"hi":-1,"c":"p"},{"d":8.625,"lo":-0.9,"hi":-0.3,"c":"p"},{"d":8.875,"lo":-1.1,"hi":-0.4,"c":"p"},{"d":9.375,"lo":-1,"hi":-0.3,"c":"p"},
{"d":9.75,"lo":-1.4,"hi":-0.1,"c":"p"},{"d":9.875,"lo":-1.5,"hi":0,"c":"p"},{"d":10,"lo":-1.3,"hi":0.1,"c":"p"},{"d":10.125,"lo":-1.6,"hi":-0.1,"c":"p"},{"d":10.25,"lo":-1.4,"hi":0,"c":"p"},{"d":10.375,"lo":-1.5,"hi":0.1,"c":"p"},{"d":10.5,"lo":-1.7,"hi":-0.2,"c":"p"},{"d":10.625,"lo":-1.4,"hi":0,"c":"p"},{"d":10.75,"lo":-1.5,"hi":0.1,"c":"p"},{"d":10.875,"lo":-1.3,"hi":-0.1,"c":"p"},{"d":11,"lo":-1.6,"hi":0,"c":"p"},{"d":11.125,"lo":-1.5,"hi":-0.2,"c":"p"},{"d":11.25,"lo":-1.4,"hi":0.1,"c":"p"},{"d":11.375,"lo":-1.6,"hi":0,"c":"p"},{"d":11.5,"lo":-1.7,"hi":0.1,"c":"p"},{"d":11.625,"lo":-1.5,"hi":-0.1,"c":"p"},{"d":11.75,"lo":-1.4,"hi":0,"c":"p"},{"d":11.875,"lo":-1.6,"hi":0.1,"c":"p"},{"d":12,"lo":-1.5,"hi":0,"c":"p"},{"d":12.125,"lo":-1.3,"hi":-0.1,"c":"p"},{"d":12.25,"lo":-1.6,"hi":0.1,"c":"p"},{"d":12.375,"lo":-1.4,"hi":0,"c":"p"},{"d":12.5,"lo":-1.5,"hi":-0.1,"c":"p"},{"d":12.625,"lo":-1.6,"hi":0.1,"c":"p"},{"d":12.75,"lo":-1.4,"hi":0,"c":"p"},{"d":12.875,"lo":-1.5,"hi":0.1,"c":"p"},{"d":13,"lo":-1.3,"hi":-0.1,"c":"p"},{"d":13.125,"lo":-1.6,"hi":0,"c":"p"},{"d":13.25,"lo":-1.5,"hi":0.1,"c":"p"},{"d":13.375,"lo":-1.4,"hi":0,"c":"p"},{"d":13.5,"lo":-1.6,"hi":-0.1,"c":"p"},{"d":13.625,"lo":-1.5,"hi":0.1,"c":"p"},{"d":13.75,"lo":-1.3,"hi":0,"c":"p"},{"d":13.875,"lo":-1.6,"hi":0.1,"c":"p"},{"d":14,"lo":-1.4,"hi":0,"c":"p"},{"d":14.125,"lo":-1.5,"hi":-0.1,"c":"p"},{"d":14.25,"lo":-1.7,"hi":0,"c":"p"},{"d":14.375,"lo":-1.4,"hi":0.1,"c":"p"},{"d":14.5,"lo":-1.5,"hi":0,"c":"p"},{"d":14.625,"lo":-1.6,"hi":-0.1,"c":"p"},{"d":14.75,"lo":-1.4,"hi":0.1,"c":"p"},{"d":14.875,"lo":-1.5,"hi":0,"c":"p"},{"d":15,"lo":-1.3,"hi":-0.1,"c":"p"}
]
},
"vconcat": [
{
"width": 584, "height": 41,
"layer": [
{"data": {"name": "xr"}, "mark": {"type": "line", "color": "#ff00ff", "strokeWidth": 1.3, "clip": true},
 "encoding": {
  "x": {"field": "d", "type": "quantitative", "title": null, "scale": {"domain": [0, 15], "nice": false, "zero": false}},
  "y": {"field": "v", "type": "quantitative", "title": null, "scale": {"type": "log", "domain": [1e-7, 0.001], "nice": false},
        "axis": {"values": [0.000001, 0.00001, 0.0001], "labelExpr": "datum.value > 0.00005 ? 'X' : datum.value > 0.000005 ? 'M' : 'C'", "labelFontSize": 11}}}},
{"data": {"name": "fl"}, "mark": {"type": "point", "shape": "circle", "filled": true, "fill": "#b8b8ff", "stroke": "#2a2aff", "strokeWidth": 1.3, "size": 30, "opacity": 1, "clip": true},
 "encoding": {
  "x": {"field": "d", "type": "quantitative", "title": null, "scale": {"domain": [0, 15], "nice": false, "zero": false}},
  "y": {"field": "v", "type": "quantitative", "title": null}}}
]
},
{
"width": 584, "height": 43,
"title": {"text": "rt", "orient": "right", "anchor": "start", "angle": 0, "align": "left", "baseline": "top", "fontSize": 8, "fontWeight": "normal", "font": "DejaVu Sans", "color": "#333333", "offset": 2, "dy": 5},
"layer": [
{"data": {"name": "m"}, "mark": {"type": "line", "color": "#00ee00", "strokeWidth": 1.8, "clip": true},
 "encoding": {
  "x": {"field": "d", "type": "quantitative", "title": null, "scale": {"domain": [0, 15], "nice": false, "zero": false}},
  "y": {"field": "sp", "type": "quantitative", "title": null, "scale": {"domain": [315, 820], "nice": false, "zero": false},
        "axis": {"values": [400, 500, 600, 700, 800], "labelExpr": "datum.value > 750 ? '' : datum.label", "labelFontSize": 9.5}}}}
]
},
{
"width": 584, "height": 44,
"title": {"text": "rt", "orient": "right", "anchor": "start", "angle": 0, "align": "left", "baseline": "top", "fontSize": 8, "fontWeight": "normal", "font": "DejaVu Sans", "color": "#333333", "offset": 2, "dy": 5},
"layer": [
{"data": {"name": "cl"}, "mark": {"type": "bar", "width": 4.9, "clip": true, "opacity": 0.9},
 "encoding": {
  "x": {"field": "d", "type": "quantitative", "title": null, "scale": {"domain": [0, 15], "nice": false, "zero": false}},
  "y": {"field": "lo", "type": "quantitative", "title": null, "scale": {"domain": [-2.05, 2.05], "nice": false, "zero": false},
        "axis": {"values": [-1, 1], "labelExpr": "datum.value > 0 ? 'T' : 'A'", "labelFontSize": 12}},
  "y2": {"field": "hi"},
  "color": {"field": "c", "type": "nominal", "scale": {"domain": ["g", "b", "p"], "range": ["#cccccc", "#b0e4fc", "#fbb5f3"]}, "legend": null}}},
{"data": {"values": [{"v": 0}]}, "mark": {"type": "rule", "color": "#555555", "strokeWidth": 1},
 "encoding": {"y": {"field": "v", "type": "quantitative", "title": null}}},
{"data": {"name": "sec"}, "mark": {"type": "line", "strokeWidth": 1.5, "clip": true},
 "encoding": {
  "x": {"field": "d", "type": "quantitative", "title": null, "scale": {"domain": [0, 15], "nice": false, "zero": false}},
  "y": {"field": "v", "type": "quantitative", "title": null},
  "color": {"field": "k", "type": "nominal", "scale": {"domain": ["g1", "g2", "g3", "T", "A1", "A2"], "range": ["#4f7f4f", "#4f7f4f", "#4f7f4f", "#5a6af0", "#ff6060", "#ff6060"]}, "legend": null}}}
],
"resolve": {"scale": {"color": "independent"}}
},
{
"width": 584, "height": 43,
"title": {"text": "rt", "orient": "right", "anchor": "start", "angle": 0, "align": "left", "baseline": "top", "fontSize": 8, "fontWeight": "normal", "font": "DejaVu Sans", "color": "#333333", "offset": 2, "dy": 5},
"layer": [
{"data": {"name": "bze"}, "mark": {"type": "rule", "color": "#ff0000", "strokeWidth": 1, "clip": true},
 "encoding": {
  "x": {"field": "d", "type": "quantitative", "title": null, "scale": {"domain": [0, 15], "nice": false, "zero": false}},
  "y": {"field": "l", "type": "quantitative", "title": null, "scale": {"domain": [-20, 20], "nice": false, "zero": false},
        "axis": {"values": [-10, 0, 10]}},
  "y2": {"field": "h"}}},
{"data": {"name": "m"}, "mark": {"type": "line", "color": "#ff0000", "strokeWidth": 1.2, "clip": true},
 "encoding": {
  "x": {"field": "d", "type": "quantitative", "title": null, "scale": {"domain": [0, 15], "nice": false, "zero": false}},
  "y": {"field": "bz", "type": "quantitative", "title": null}}},
{"data": {"values": [{"v": 0}]}, "mark": {"type": "rule", "color": "#a00000", "strokeWidth": 1},
 "encoding": {"y": {"field": "v", "type": "quantitative", "title": null}}},
{"data": {"name": "m"}, "mark": {"type": "line", "color": "#0000ff", "strokeWidth": 1.2, "clip": true},
 "encoding": {
  "x": {"field": "d", "type": "quantitative", "title": null, "scale": {"domain": [0, 15], "nice": false, "zero": false}},
  "y": {"field": "bt", "type": "quantitative", "title": null}}}
]
},
{
"width": 584, "height": 43,
"layer": [
{"data": {"values": [{"v": 0}]}, "mark": {"type": "rule", "color": "#d88080", "strokeWidth": 3},
 "encoding": {"y": {"field": "v", "type": "quantitative", "title": null}}},
{"data": {"name": "m"}, "mark": {"type": "line", "color": "#ff33ff", "strokeWidth": 1.2, "clip": true},
 "encoding": {
  "x": {"field": "d", "type": "quantitative", "title": null, "scale": {"domain": [0, 15], "nice": false, "zero": false}},
  "y": {"field": "ds", "type": "quantitative", "title": null, "scale": {"domain": [-95, 48], "nice": false, "zero": false},
        "axis": {"values": [-50, 0]}}}}
]
},
{
"width": 584, "height": 43,
"layer": [
{"data": {"name": "m"}, "mark": {"type": "line", "color": "#22eeee", "strokeWidth": 1.5, "clip": true},
 "encoding": {
  "x": {"field": "d", "type": "quantitative", "title": null, "scale": {"domain": [0, 15], "nice": false, "zero": false}},
  "y": {"field": "n", "type": "quantitative", "title": null, "scale": {"domain": [0, 60], "nice": false},
        "axis": {"values": [20, 40]}}}}
]
},
{
"width": 584, "height": 43,
"title": {"text": "rt", "orient": "right", "anchor": "start", "angle": 0, "align": "left", "baseline": "top", "fontSize": 8, "fontWeight": "normal", "font": "DejaVu Sans", "color": "#333333", "offset": 2, "dy": 5},
"layer": [
{"data": {"values": [{"v": 1000000}, {"v": 10000000}]}, "mark": {"type": "rule", "color": "#cc0000", "strokeWidth": 1},
 "encoding": {"y": {"field": "v", "type": "quantitative", "title": null}}},
{"data": {"name": "m"}, "mark": {"type": "line", "color": "#a040d8", "strokeWidth": 1.2, "clip": true},
 "encoding": {
  "x": {"field": "d", "type": "quantitative", "title": null, "scale": {"domain": [0, 15], "nice": false, "zero": false}},
  "y": {"field": "pu", "type": "quantitative", "title": null, "scale": {"type": "log", "domain": [100000, 49000000], "nice": false},
        "axis": {"values": [1000000, 10000000], "labelExpr": "datum.value > 5000000 ? '10⁷' : '10⁶'"}}}}
]
},
{
"width": 584, "height": 43,
"title": {"text": "rt", "orient": "right", "anchor": "start", "angle": 0, "align": "left", "baseline": "top", "fontSize": 8, "fontWeight": "normal", "font": "DejaVu Sans", "color": "#333333", "offset": 2, "dy": 5},
"layer": [
{"data": {"values": [{"v": 10000}]}, "mark": {"type": "rule", "color": "#e03030", "strokeWidth": 1.5, "strokeDash": [9, 6]},
 "encoding": {"y": {"field": "v", "type": "quantitative", "title": null}}},
{"data": {"name": "bn"}, "mark": {"type": "bar", "width": 2.6, "color": "#0000ff", "clip": true},
 "encoding": {
  "x": {"field": "d", "type": "quantitative", "title": null, "scale": {"domain": [0, 15], "nice": false, "zero": false}},
  "y": {"field": "h", "type": "quantitative", "title": null},
  "y2": {"datum": 10}}},
{"data": {"name": "m"}, "mark": {"type": "line", "color": "#0000ff", "strokeWidth": 1.2, "clip": true},
 "encoding": {
  "x": {"field": "d", "type": "quantitative", "title": null, "scale": {"domain": [0, 15], "nice": false, "zero": false}},
  "y": {"field": "b8", "type": "quantitative", "title": null, "scale": {"type": "log", "domain": [10, 100000], "nice": false},
        "axis": {"values": [100, 1000, 10000], "labelExpr": "datum.value > 5000 ? '10⁴' : datum.value > 500 ? '10³' : '10²'"}}}},
{"data": {"name": "r8e"}, "mark": {"type": "rule", "color": "#ff0000", "strokeWidth": 1, "clip": true},
 "encoding": {
  "x": {"field": "d", "type": "quantitative", "title": null, "scale": {"domain": [0, 15], "nice": false, "zero": false}},
  "y": {"field": "l", "type": "quantitative", "title": null},
  "y2": {"field": "h"}}},
{"data": {"name": "m"}, "mark": {"type": "line", "color": "#ff0000", "strokeWidth": 1.2, "clip": true},
 "encoding": {
  "x": {"field": "d", "type": "quantitative", "title": null, "scale": {"domain": [0, 15], "nice": false, "zero": false}},
  "y": {"field": "r8", "type": "quantitative", "title": null}}}
]
},
{
"width": 584, "height": 44,
"layer": [
{"data": {"name": "m"}, "mark": {"type": "line", "color": "#1f2fff", "strokeWidth": 1.2, "clip": true},
 "encoding": {
  "x": {"field": "d", "type": "quantitative", "title": "2026", "scale": {"domain": [0, 15], "nice": false, "zero": false},
        "axis": {"labels": true, "values": [0,1,2,3,4,5,6,7,8,9,10,11,12,13,14],
                 "labelExpr": "timeFormat(datetime(2026, 4, 25 + datum.value), '%-m/%e')",
                 "labelOffset": 19.5, "labelFlush": false, "labelOverlap": false, "labelBaseline": "top", "labelPadding": 3,
                 "domainWidth": 1, "minExtent": 16, "maxExtent": 30,
                 "titleX": -1, "titleY": 3, "titleBaseline": "top", "titleAlign": "right", "titleFontWeight": "normal",
                 "titleFontSize": 11, "titleFont": "DejaVu Sans", "titleColor": "#222222"}},
  "y": {"field": "p9", "type": "quantitative", "title": null, "scale": {"type": "log", "domain": [0.1, 100000], "nice": false},
        "axis": {"values": [1, 100, 10000], "labelExpr": "datum.value > 5000 ? '10⁴' : datum.value > 50 ? '10²' : '10⁰'"}}}}
]
}
],
"config": {
  "view": {"stroke": "#222222", "strokeWidth": 1},
  "axis": {"labelFont": "DejaVu Sans", "labelFontSize": 11, "labelColor": "#222222", "gridColor": "#d3d3d3", "ticks": false, "domain": false, "labelPadding": 3, "labelOverlap": false, "labelBound": false},
  "axisX": {"grid": true, "labels": false, "domain": true, "domainWidth": 3, "domainColor": "#222222", "tickCount": 15, "minExtent": 0, "maxExtent": 0},
  "axisLeft": {"minExtent": 28, "maxExtent": 28}
}
}
